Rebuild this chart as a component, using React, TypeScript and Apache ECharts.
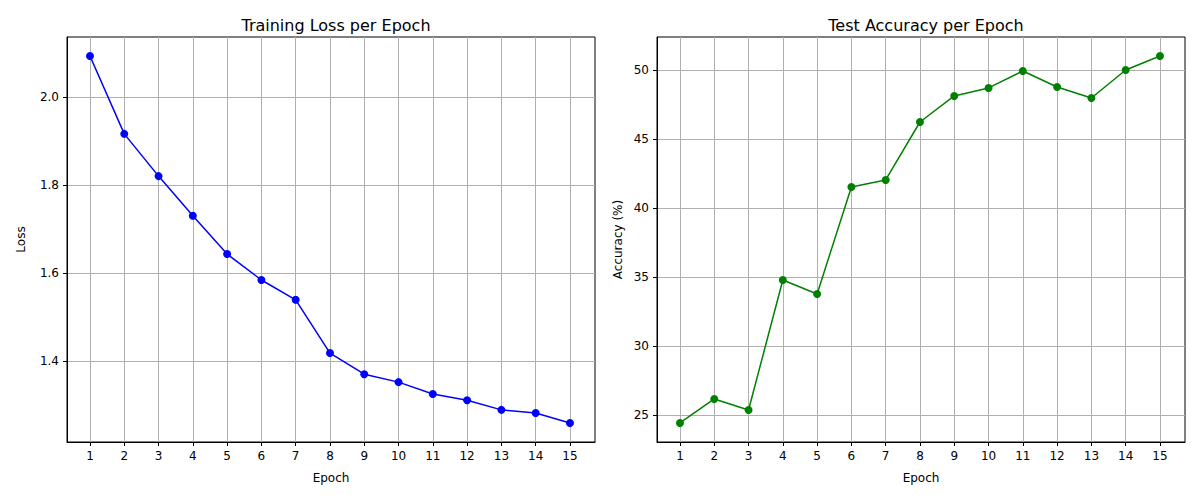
import React, { useEffect, useRef } from 'react';
import * as echarts from 'echarts';

const epochs = [1, 2, 3, 4, 5, 6, 7, 8, 9, 10, 11, 12, 13, 14, 15];
const lossValues = [2.093, 1.916, 1.82, 1.73, 1.643, 1.584, 1.539, 1.418, 1.37, 1.352, 1.325, 1.311, 1.289, 1.282, 1.259];
const accValues = [24.42, 26.16, 25.36, 34.78, 33.77, 41.52, 42.03, 46.23, 48.12, 48.7, 49.93, 48.77, 47.97, 50.0, 51.01];
const lossTicks = [1.4, 1.6, 1.8, 2.0];
const accTicks = [25, 30, 35, 40, 45, 50];

const font = 'DejaVu Sans';

const xAxisFor = (gridIndex: number) => ({
  type: 'value',
  gridIndex,
  min: 0.33,
  max: 15.73,
  name: 'Epoch',
  nameLocation: 'middle',
  nameGap: 30,
  nameTextStyle: { color: '#000', fontSize: 12, fontFamily: font },
  axisLine: { show: true, lineStyle: { color: '#000' } },
  axisTick: { show: true, customValues: epochs, length: 4, lineStyle: { color: '#000' } },
  axisLabel: { customValues: epochs, color: '#000', fontSize: 12, fontFamily: font, margin: 8 },
  splitLine: { show: true, lineStyle: { color: '#b0b0b0' } },
});

const yAxisFor = (gridIndex: number, min: number, max: number, ticks: number[], name: string, fmt: (v: number) => string) => ({
  type: 'value',
  gridIndex,
  min,
  max,
  name,
  nameLocation: 'middle',
  nameGap: gridIndex === 0 ? 40 : 33,
  nameTextStyle: { color: '#000', fontSize: 12, fontFamily: font },
  axisLine: { show: true, lineStyle: { color: '#000' } },
  axisTick: { show: true, customValues: ticks, length: 4, lineStyle: { color: '#000' } },
  axisLabel: { customValues: ticks, color: '#000', fontSize: 12, fontFamily: font, formatter: fmt },
  splitLine: { show: true, lineStyle: { color: '#b0b0b0' } },
});

const App: React.FC = () => {
  const chartRef = useRef<HTMLDivElement | null>(null);

  useEffect(() => {
    if (!chartRef.current) return;
    const chart = echarts.init(chartRef.current, null, { renderer: 'svg' });
    chart.setOption({
      animation: false,
      backgroundColor: '#fff',
      title: [
        { text: 'Training Loss per Epoch', left: 331, top: 12, textAlign: 'center', textStyle: { fontSize: 16, fontWeight: 'normal', fontFamily: font, color: '#000' } },
        { text: 'Test Accuracy per Epoch', left: 921, top: 12, textAlign: 'center', textStyle: { fontSize: 16, fontWeight: 'normal', fontFamily: font, color: '#000' } },
      ],
      grid: [
        { left: 67, right: 605, top: 37, bottom: 58, show: true, borderColor: '#000', borderWidth: 1 },
        { left: 657, right: 15, top: 37, bottom: 58, show: true, borderColor: '#000', borderWidth: 1 },
      ],
      xAxis: [xAxisFor(0), xAxisFor(1)],
      yAxis: [
        yAxisFor(0, 1.216, 2.136, lossTicks, 'Loss', (v) => v.toFixed(1)),
        yAxisFor(1, 23.04, 52.39, accTicks, 'Accuracy (%)', (v) => String(v)),
      ],
      series: [
        {
          type: 'line',
          xAxisIndex: 0,
          yAxisIndex: 0,
          data: epochs.map((e, i) => [e, lossValues[i]]),
          symbol: 'circle',
          symbolSize: 8,
          lineStyle: { color: '#0000ff', width: 1.5 },
          itemStyle: { color: '#0000ff' },
        },
        {
          type: 'line',
          xAxisIndex: 1,
          yAxisIndex: 1,
          data: epochs.map((e, i) => [e, accValues[i]]),
          symbol: 'circle',
          symbolSize: 8,
          lineStyle: { color: '#008000', width: 1.5 },
          itemStyle: { color: '#008000' },
        },
      ],
    });
    return () => chart.dispose();
  }, []);

  return <div ref={chartRef} style={{ width: 1200, height: 500, position: 'absolute', left: 0, top: 0 }} />;
};

export default App;
